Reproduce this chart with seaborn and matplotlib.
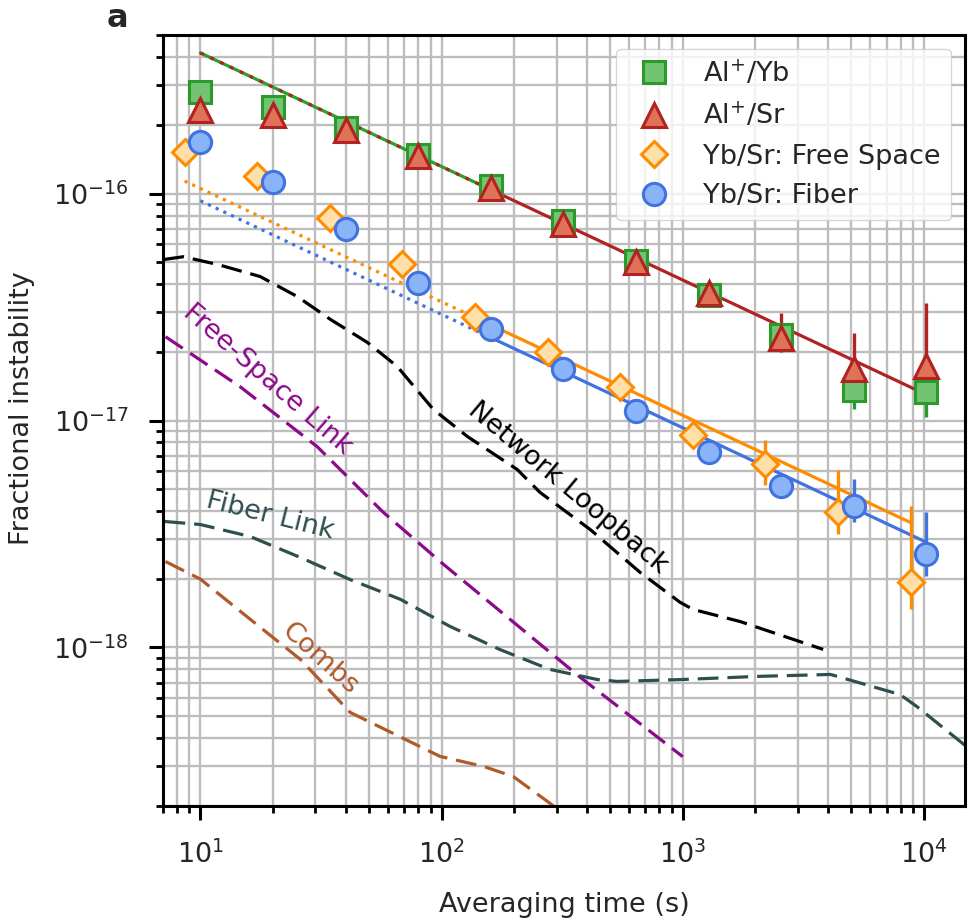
import matplotlib
matplotlib.use("Agg")
import matplotlib.pyplot as plt
import seaborn as sns
from matplotlib.lines import Line2D

sns.set_style("ticks")
plt.rcParams['font.family'] = ['DejaVu Sans']
plt.rcParams['mathtext.fontset'] = 'dejavusans'

# ---- clock comparison data (fractional instability vs averaging time) ----
tau_al = [10, 20, 40, 80, 160, 320, 640, 1280, 2560, 5120, 10240]
alyb = [2.80e-16, 2.40e-16, 1.94e-16, 1.48e-16, 1.08e-16, 7.6e-17, 5.07e-17, 3.59e-17, 2.39e-17, 1.36e-17, 1.33e-17]
alyb_lo = [0.08e-16, 0.08e-16, 0.06e-16, 0.05e-16, 0.04e-16, 0.3e-17, 0.25e-17, 0.2e-17, 0.25e-17, 0.24e-17, 0.29e-17]
alyb_hi = [0.08e-16, 0.08e-16, 0.06e-16, 0.05e-16, 0.04e-16, 0.3e-17, 0.25e-17, 0.2e-17, 0.3e-17, 0.3e-17, 0.4e-17]

alsr = [2.34e-16, 2.21e-16, 1.91e-16, 1.46e-16, 1.06e-16, 7.38e-17, 4.97e-17, 3.66e-17, 2.30e-17, 1.68e-17, 1.73e-17]
alsr_lo = [0.08e-16, 0.08e-16, 0.06e-16, 0.05e-16, 0.04e-16, 0.3e-17, 0.25e-17, 0.25e-17, 0.3e-17, 0.27e-17, 0.4e-17]
alsr_hi = [0.08e-16, 0.08e-16, 0.06e-16, 0.05e-16, 0.04e-16, 0.3e-17, 0.3e-17, 0.35e-17, 0.69e-17, 0.76e-17, 1.58e-17]

tau_fs = [8.6, 17.2, 34.4, 68.8, 138, 275, 550, 1100, 2200, 4400, 8800]
ybsr_fs = [1.52e-16, 1.19e-16, 7.84e-17, 4.87e-17, 2.87e-17, 2.01e-17, 1.41e-17, 8.67e-18, 6.40e-18, 3.97e-18, 1.95e-18]
fs_lo = [0.05e-16, 0.04e-16, 0.25e-17, 0.15e-17, 0.1e-17, 0.08e-17, 0.07e-17, 0.8e-18, 1.2e-18, 0.82e-18, 0.48e-18]
fs_hi = [0.05e-16, 0.04e-16, 0.25e-17, 0.15e-17, 0.1e-17, 0.08e-17, 0.1e-17, 1.2e-18, 1.84e-18, 2.1e-18, 2.23e-18]

tau_fb = [10, 20, 40, 80, 160, 320, 640, 1280, 2560, 5120, 10240]
ybsr_fb = [1.69e-16, 1.12e-16, 7.01e-17, 4.02e-17, 2.52e-17, 1.68e-17, 1.10e-17, 7.3e-18, 5.12e-18, 4.18e-18, 2.57e-18]
fb_lo = [0.05e-16, 0.03e-16, 0.2e-17, 0.1e-17, 0.07e-17, 0.05e-17, 0.04e-17, 0.3e-18, 0.4e-18, 0.62e-18, 0.51e-18]
fb_hi = [0.05e-16, 0.03e-16, 0.2e-17, 0.1e-17, 0.07e-17, 0.05e-17, 0.04e-17, 0.4e-18, 0.6e-18, 1.32e-18, 1.37e-18]

# white-frequency-noise fits: early (extrapolated) and fitted segments
fit_al_tau = [10, 160, 10240]
fit_al = [4.17e-16, 1.04e-16, 1.30e-17]
fit_fs_tau = [8.6, 138, 8800]
fit_fs = [1.136e-16, 2.84e-17, 3.55e-18]
fit_fb_tau = [10, 160, 10240]
fit_fb = [9.30e-17, 2.32e-17, 2.905e-18]

# ---- measurement noise floors ----
loop_tau = [7.03, 8.5, 11.8, 17.7, 25.2, 34.6, 49.2, 65.5, 92.4, 128, 206, 256, 413, 666, 975, 1104, 1730, 3820]
loop_sig = [5.12e-17, 5.27e-17, 4.87e-17, 4.31e-17, 3.52e-17, 2.79e-17, 2.21e-17, 1.73e-17, 1.12e-17, 8.5e-18,
            6.08e-18, 4.82e-18, 3.31e-18, 2.14e-18, 1.58e-18, 1.47e-18, 1.30e-18, 9.8e-19]

fsl_tau = [7.17, 14.6, 30.5, 57.3, 102, 376, 912, 1000]
fsl_sig = [2.34e-17, 1.41e-17, 7.67e-18, 3.94e-18, 2.32e-18, 7.38e-19, 3.56e-19, 3.3e-19]

fib_tau = [7.1, 10, 16.1, 26, 41.8, 67.4, 108, 174, 281, 442, 535, 1000, 2030, 4100, 7950, 9320, 15000]
fib_sig = [3.59e-18, 3.48e-18, 3.08e-18, 2.49e-18, 1.99e-18, 1.63e-18, 1.24e-18, 9.8e-19, 8.0e-19, 7.22e-19,
           7.08e-19, 7.22e-19, 7.45e-19, 7.6e-19, 6.2e-19, 5.5e-19, 3.66e-19]

comb_tau = [7.17, 10, 16.1, 26, 41.8, 98.5, 149, 198, 274, 310]
comb_sig = [2.39e-18, 2.0e-18, 1.33e-18, 8.85e-19, 5.17e-19, 3.31e-19, 2.99e-19, 2.7e-19, 2.1e-19, 1.9e-19]

x_major = [1e1, 1e2, 1e3, 1e4]
y_major = [1e-18, 1e-17, 1e-16]

FS = 19.5
fig = plt.figure(figsize=(9.69, 9.23), dpi=100)
ax = fig.add_axes([163 / 969, 117 / 923, 802 / 969, 771 / 923])
ax.set_xscale('log')
ax.set_yscale('log')

dash = (0, (6.5, 2.8))
floors = [(loop_tau, loop_sig, 'black'), (fsl_tau, fsl_sig, '#8b0a8b'),
          (fib_tau, fib_sig, '#2f4f4f'), (comb_tau, comb_sig, '#b05a2c')]
for t, s, c in floors:
    sns.lineplot(x=t, y=s, ax=ax, color=c, lw=2.3, linestyle=dash, sort=False, estimator=None)

# fits
sns.lineplot(x=fit_al_tau[:2], y=fit_al[:2], ax=ax, color='#2ca02c', lw=2.3, sort=False, estimator=None)
sns.lineplot(x=fit_al_tau[:2], y=fit_al[:2], ax=ax, color='#b22222', lw=2.3, linestyle=(0, (1.2, 2.2)),
             sort=False, estimator=None)
sns.lineplot(x=fit_al_tau[1:], y=fit_al[1:], ax=ax, color='#b22222', lw=2.3, sort=False, estimator=None)
sns.lineplot(x=fit_fs_tau[:2], y=fit_fs[:2], ax=ax, color='darkorange', lw=2.3, linestyle=':', sort=False, estimator=None)
sns.lineplot(x=fit_fs_tau[1:], y=fit_fs[1:], ax=ax, color='darkorange', lw=2.3, sort=False, estimator=None)
sns.lineplot(x=fit_fb_tau[:2], y=fit_fb[:2], ax=ax, color='#4272e0', lw=2.3, linestyle=':', sort=False, estimator=None)
sns.lineplot(x=fit_fb_tau[1:], y=fit_fb[1:], ax=ax, color='#4272e0', lw=2.3, sort=False, estimator=None)

series = [
    (tau_al, alyb, alyb_lo, alyb_hi, 's', 16, '#72c472', '#2a9a2a', r'Al$^{+}$/Yb'),
    (tau_al, alsr, alsr_lo, alsr_hi, '^', 17, '#e07258', '#b22222', r'Al$^{+}$/Sr'),
    (tau_fs, ybsr_fs, fs_lo, fs_hi, 'D', 13.5, '#ffe0a8', 'darkorange', 'Yb/Sr: Free Space'),
    (tau_fb, ybsr_fb, fb_lo, fb_hi, 'o', 16, '#8ab4f8', '#4272e0', 'Yb/Sr: Fiber'),
]
handles = []
for t, v, lo, hi, m, ms, fc, ec, lab in series:
    ax.errorbar(t, v, yerr=[lo, hi], fmt=m, ms=ms, mfc=fc, mec=ec, mew=2.2,
                ecolor=ec, elinewidth=2.4, capsize=0, zorder=4)
    handles.append(Line2D([], [], ls='none', marker=m, ms=ms, mfc=fc, mec=ec, mew=2.2, label=lab))

# noise floor labels
ax.text(335, 5.07e-18, 'Network Loopback', color='black', fontsize=FS, rotation=-40,
        rotation_mode='anchor', ha='center', va='center')
ax.text(19.0, 1.52e-17, 'Free-Space Link', color='#8b0a8b', fontsize=FS, rotation=-41,
        rotation_mode='anchor', ha='center', va='center')
ax.text(19.5, 3.8e-18, 'Fiber Link', color='#2f4f4f', fontsize=FS, rotation=-14,
        rotation_mode='anchor', ha='center', va='center')
ax.text(31.4, 8.85e-19, 'Combs', color='#b05a2c', fontsize=FS, rotation=-42,
        rotation_mode='anchor', ha='center', va='center')

ax.set_xlim(7, 14800)
ax.set_ylim(2e-19, 5e-16)
ax.set_xticks(x_major)
ax.set_yticks(y_major)
ax.set_axisbelow(True)
ax.grid(True, which='both', color='#bdbdbd', lw=1.7)
ax.tick_params(which='major', direction='out', length=10, width=2.2, labelsize=FS, colors='black',
               labelcolor='#262626', pad=14.5)
ax.tick_params(which='minor', direction='out', length=5, width=2.0, colors='black')
for sp in ax.spines.values():
    sp.set_color('black')
    sp.set_linewidth(2.2)

ax.set_xlabel('Averaging time (s)', fontsize=FS, color='#262626')
ax.set_ylabel('Fractional instability', fontsize=FS, color='#262626')
ax.xaxis.set_label_coords(0.5, -0.111)
ax.yaxis.set_label_coords(-0.160, 0.516)

ax.legend(handles=handles, loc='upper right', fontsize=FS, frameon=True, fancybox=True,
          framealpha=0.8, edgecolor='0.8', labelspacing=0.5, borderpad=0.4,
          handletextpad=0.8, handlelength=2)

fig.text(117 / 969, 1 - 27 / 923, 'a', weight='bold', fontsize=23, ha='center', va='baseline')

fig.savefig('out.png', dpi=100)
